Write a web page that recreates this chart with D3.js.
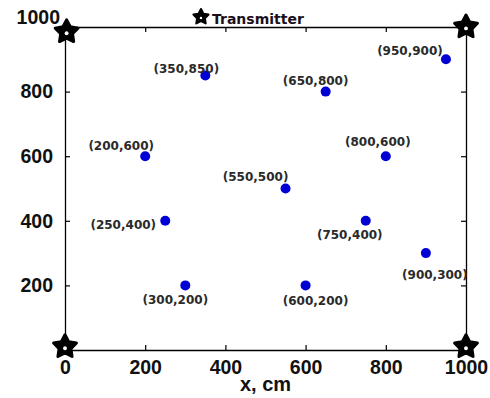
<!DOCTYPE html>
<html>
<head>
<meta charset="utf-8">
<script src="https://cdn.jsdelivr.net/npm/d3@7"></script>
<style>
  body { margin: 0; background: #fff; }
  svg { display: block; }
</style>
</head>
<body>
<script>
// receiver positions (cm)
const pointX = [350, 650, 950, 200, 800, 550, 250, 750, 900, 300, 600];
const pointY = [850, 800, 900, 600, 600, 500, 400, 400, 300, 200, 200];
// transmitters in the corners
const txX = [4, 1000, 0, 1000];
const txY = [985, 1000, 10, 10];
const ticks = [0, 200, 400, 600, 800, 1000];

// label offsets from each point, px
const labelOffset = [[-19, -7], [-10, -11], [-36, -9], [-24, -10], [-8, -14], [-30, -12],
                     [-42, 4], [-16, 14], [9, 22], [-10, 14], [10, 15]];

const width = 490, height = 398;

const svg = d3.select("body").append("svg")
  .attr("width", width)
  .attr("height", height);

const x = d3.scaleLinear().domain([0, 1000]).range([65, 466]);
const y = d3.scaleLinear().domain([0, 1000]).range([350, 27]);

const innerTicks = [200, 400, 600, 800];

// box axes, ticks pointing inwards
svg.append("g").attr("transform", "translate(0," + y(0) + ")")
  .call(d3.axisBottom(x).tickValues(ticks).tickSizeInner(-5).tickSizeOuter(0).tickPadding(10).tickFormat(d3.format("d")))
  .call(g => g.selectAll("text").attr("dy", "0.71em"));
svg.append("g").attr("transform", "translate(0," + y(1000) + ")")
  .call(d3.axisTop(x).tickValues(innerTicks).tickSizeInner(-5).tickSizeOuter(0).tickFormat(""));
svg.append("g").attr("transform", "translate(" + x(0) + ",0)")
  .call(d3.axisLeft(y).tickValues(ticks.slice(1)).tickSizeInner(-5).tickSizeOuter(0).tickPadding(12).tickFormat(d3.format("d")))
  .call(g => g.selectAll(".tick").filter(d => d === 1000).select("text").attr("y", -10).attr("x", -5));
svg.append("g").attr("transform", "translate(" + x(1000) + ",0)")
  .call(d3.axisRight(y).tickValues(innerTicks).tickSizeInner(-5).tickSizeOuter(0).tickFormat(""));

svg.selectAll(".domain").attr("stroke", "#000").attr("stroke-width", 1.3);
svg.selectAll(".tick line").attr("stroke", "#000").attr("stroke-width", 1.2);
svg.selectAll(".tick text")
  .attr("fill", "#111")
  .style("font-family", "'Liberation Sans', Arial, sans-serif")
  .style("font-weight", "bold")
  .style("font-size", "19.5px");

// x-axis label
svg.append("text")
  .attr("x", (x(0) + x(1000)) / 2)
  .attr("y", 391)
  .attr("text-anchor", "middle")
  .style("font-family", "'Liberation Sans', Arial, sans-serif")
  .style("font-weight", "bold")
  .style("font-size", "20px")
  .attr("fill", "#111")
  .text("x, cm");

// receiver points
const pts = pointX.map((d, i) => ({ x: d, y: pointY[i], off: labelOffset[i] }));

svg.selectAll(".pt")
  .data(pts)
  .enter()
  .append("circle")
  .attr("class", "pt")
  .attr("cx", d => x(d.x))
  .attr("cy", d => y(d.y))
  .attr("r", 5)
  .attr("fill", "#0000d4");

svg.selectAll(".lbl")
  .data(pts)
  .enter()
  .append("text")
  .attr("class", "lbl")
  .attr("x", d => x(d.x) + d.off[0])
  .attr("y", d => y(d.y) + d.off[1])
  .attr("dy", "0.35em")
  .attr("text-anchor", "middle")
  .style("font-family", "'DejaVu Sans', sans-serif")
  .style("font-weight", "bold")
  .style("font-size", "12px")
  .attr("fill", "#2a2a2a")
  .text(d => "(" + d.x + "," + d.y + ")");

// chunky five point star, rounded corners
const starPath = (ro, ri) => {
  const p = d3.range(10).map(i => [i * Math.PI / 5, i % 2 ? ri : ro]);
  return d3.lineRadial().curve(d3.curveLinearClosed)(p);
};

const drawStar = (g, cx, cy, ro) => {
  g.append("path")
    .attr("d", starPath(ro, ro * 0.52))
    .attr("transform", "translate(" + cx + "," + cy + ")")
    .attr("fill", "#000")
    .attr("stroke", "#000")
    .attr("stroke-width", ro * 0.25)
    .attr("stroke-linejoin", "round");
  g.append("circle")
    .attr("cx", cx)
    .attr("cy", cy + ro * 0.12)
    .attr("r", ro * 0.16)
    .attr("fill", "#fff");
};

const txG = svg.append("g");
txX.forEach((d, i) => drawStar(txG, x(d), y(txY[i]), 12));

// legend
const legG = svg.append("g");
drawStar(legG, 201, 17, 8);
legG.append("text")
  .attr("x", 212)
  .attr("y", 24)
  .style("font-family", "'DejaVu Sans', sans-serif")
  .style("font-weight", "bold")
  .style("font-size", "14px")
  .attr("fill", "#1a0f1a")
  .text("Transmitter");
</script>
</body>
</html>
